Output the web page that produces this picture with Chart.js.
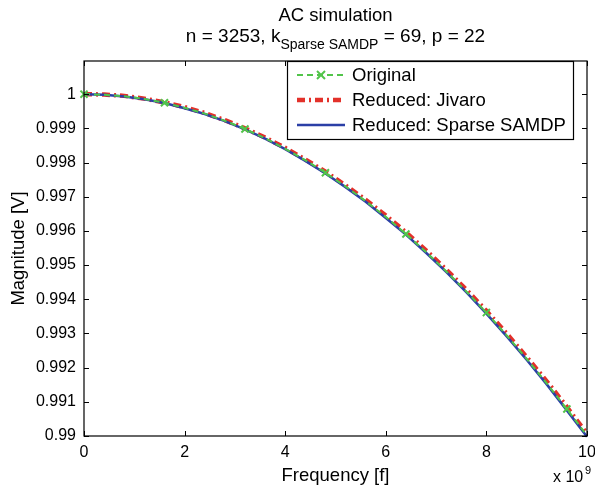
<!DOCTYPE html>
<html>
<head>
<meta charset="utf-8">
<script src="https://cdn.jsdelivr.net/npm/chart.js@4.4.1/dist/chart.umd.min.js"></script>
<style>
    html, body { margin: 0; padding: 0; background: #fff; }
</style>
</head>
<body>
<canvas id="acChart" width="595" height="490"></canvas>
<script>
// --- DATA ---
// frequency in units of 1e9 (axis shows "x 10^9")
const freq = [0, 0.4, 0.8, 1.2, 1.6, 2.0, 2.4, 2.8, 3.2, 3.6, 4.0, 4.4, 4.8,
              5.2, 5.6, 6.0, 6.4, 6.8, 7.2, 7.6, 8.0, 8.4, 8.8, 9.2, 9.6, 10.0];
const magOriginal = [1.0, 0.99998, 0.99994, 0.99986, 0.99975, 0.99960, 0.99943, 0.99922,
                     0.99898, 0.99871, 0.99840, 0.99807, 0.99770, 0.99730, 0.99687, 0.99641,
                     0.99591, 0.99538, 0.99482, 0.99423, 0.99361, 0.99295, 0.99226, 0.99154,
                     0.99079, 0.99001];
const magJivaro = [1.0, 0.99999, 0.99995, 0.99987, 0.99976, 0.99962, 0.99945, 0.99924,
                   0.99900, 0.99873, 0.99843, 0.99809, 0.99773, 0.99733, 0.99691, 0.99645,
                   0.99596, 0.99543, 0.99487, 0.99428, 0.99366, 0.99300, 0.99231, 0.99160,
                   0.99085, 0.99006];
const magSamdp = [1.0, 0.99998, 0.99993, 0.99985, 0.99974, 0.99959, 0.99942, 0.99921,
                  0.99897, 0.99870, 0.99839, 0.99805, 0.99768, 0.99728, 0.99685, 0.99638,
                  0.99589, 0.99536, 0.99480, 0.99421, 0.99358, 0.99292, 0.99223, 0.99151,
                  0.99075, 0.98998];
const xTicks = [0, 2, 4, 6, 8, 10];
const yTicks = [0.99, 0.991, 0.992, 0.993, 0.994, 0.995, 0.996, 0.997, 0.998, 0.999, 1];
const seriesNames = ['Original', 'Reduced: Jivaro', 'Reduced: Sparse SAMDP'];

const FONT = '"Liberation Sans", Arial, Helvetica, sans-serif';
const GREEN = '#52c44a';
const RED = '#e3312a';
const BLUE = '#2b3fa6';

function toPoints(ys) {
    return freq.map((f, i) => ({ x: f, y: ys[i] }));
}

// --- DECORATIONS: box, inward ticks, titles, legend ---
const matlabFrame = {
    id: 'matlabFrame',
    afterDraw(chart) {
        const ctx = chart.ctx;
        const a = chart.chartArea;
        const sx = chart.scales.x, sy = chart.scales.y;
        ctx.save();

        // axes box
        ctx.strokeStyle = '#000';
        ctx.lineWidth = 1.2;
        ctx.strokeRect(a.left, a.top, a.right - a.left, a.bottom - a.top);

        // inward ticks on all four sides
        ctx.lineWidth = 1;
        ctx.beginPath();
        xTicks.forEach(v => {
            const px = Math.round(sx.getPixelForValue(v)) + 0.5;
            ctx.moveTo(px, a.bottom); ctx.lineTo(px, a.bottom - 5);
            ctx.moveTo(px, a.top); ctx.lineTo(px, a.top + 5);
        });
        yTicks.forEach(v => {
            const py = Math.round(sy.getPixelForValue(v)) + 0.5;
            ctx.moveTo(a.left, py); ctx.lineTo(a.left + 5, py);
            ctx.moveTo(a.right, py); ctx.lineTo(a.right - 5, py);
        });
        ctx.stroke();

        const cx = (a.left + a.right) / 2;
        ctx.fillStyle = '#000';
        ctx.textBaseline = 'alphabetic';

        // title
        ctx.font = '18.5px ' + FONT;
        ctx.textAlign = 'center';
        ctx.fillText('AC simulation', cx, 21);

        // subtitle with subscript
        const p1 = 'n = 3253, k', sub = 'Sparse SAMDP', p2 = ' = 69, p = 22';
        ctx.font = '19px ' + FONT;
        const w1 = ctx.measureText(p1).width, w3 = ctx.measureText(p2).width;
        ctx.font = '14px ' + FONT;
        const w2 = ctx.measureText(sub).width;
        let x0 = cx - (w1 + w2 + w3) / 2;
        ctx.textAlign = 'left';
        ctx.font = '19px ' + FONT;
        ctx.fillText(p1, x0, 42);
        ctx.font = '14px ' + FONT;
        ctx.fillText(sub, x0 + w1, 49);
        ctx.font = '19px ' + FONT;
        ctx.fillText(p2, x0 + w1 + w2, 42);

        // axis labels
        ctx.font = '18.5px ' + FONT;
        ctx.textAlign = 'center';
        ctx.fillText('Frequency [f]', cx, 481);
        ctx.save();
        ctx.translate(24, (a.top + a.bottom) / 2);
        ctx.rotate(-Math.PI / 2);
        ctx.fillText('Magnitude [V]', 0, 0);
        ctx.restore();

        // exponent
        ctx.textAlign = 'left';
        ctx.font = '16px ' + FONT;
        ctx.fillText('x 10', 553, 482);
        ctx.font = '11px ' + FONT;
        ctx.fillText('9', 585, 474);

        // legend
        const lx = 287, ly = 61, lw = 286, lh = 78;
        ctx.fillStyle = '#fff';
        ctx.fillRect(lx, ly, lw, lh);
        ctx.strokeStyle = '#000';
        ctx.lineWidth = 1.2;
        ctx.strokeRect(lx + 0.5, ly + 0.5, lw, lh);

        const rows = [75, 100, 125];
        const styles = [
            { color: GREEN, width: 2, dash: [6, 4] },
            { color: RED, width: 4.5, dash: [8, 4, 2, 4] },
            { color: BLUE, width: 2.5, dash: [] }
        ];
        styles.forEach((s, i) => {
            ctx.strokeStyle = s.color;
            ctx.lineWidth = s.width;
            ctx.setLineDash(s.dash);
            ctx.beginPath();
            ctx.moveTo(297, rows[i]);
            ctx.lineTo(345, rows[i]);
            ctx.stroke();
        });
        ctx.setLineDash([]);
        // marker on the "Original" sample
        ctx.strokeStyle = GREEN;
        ctx.lineWidth = 2;
        ctx.beginPath();
        ctx.moveTo(317, rows[0] - 4); ctx.lineTo(325, rows[0] + 4);
        ctx.moveTo(317, rows[0] + 4); ctx.lineTo(325, rows[0] - 4);
        ctx.stroke();

        ctx.fillStyle = '#000';
        ctx.font = '18.5px ' + FONT;
        ctx.textBaseline = 'middle';
        seriesNames.forEach((n, i) => ctx.fillText(n, 352, rows[i] + 1));

        ctx.restore();
    }
};

const ctxAc = document.getElementById('acChart');
new Chart(ctxAc, {
    type: 'line',
    data: {
        datasets: [{
            label: seriesNames[2],
            data: toPoints(magSamdp),
            borderColor: BLUE,
            borderWidth: 2.5,
            pointRadius: 0,
            tension: 0,
            order: 0
        }, {
            label: seriesNames[1],
            data: toPoints(magJivaro),
            borderColor: RED,
            borderWidth: 4.5,
            borderDash: [8, 4, 2, 4],
            pointRadius: 0,
            tension: 0,
            order: 1
        }, {
            label: seriesNames[0],
            data: toPoints(magOriginal),
            borderColor: GREEN,
            borderWidth: 2,
            borderDash: [6, 4],
            pointStyle: 'crossRot',
            pointRadius: (c) => (c.dataIndex % 4 === 0 ? 5 : 0),
            pointBorderWidth: 2,
            pointBorderColor: GREEN,
            tension: 0,
            order: -1
        }]
    },
    options: {
        responsive: false,
        animation: false,
        clip: false,
        layout: { padding: { left: 0, right: 8, top: 61, bottom: 0 } },
        plugins: {
            legend: { display: false },
            tooltip: { enabled: false }
        },
        scales: {
            x: {
                type: 'linear',
                min: 0,
                max: 10,
                afterBuildTicks: (s) => { s.ticks = xTicks.map(v => ({ value: v })); },
                afterFit: (s) => { s.height = 54; s.paddingLeft = 0; s.paddingRight = 0; },
                grid: { display: false, drawTicks: false },
                border: { display: false },
                ticks: {
                    color: '#000',
                    padding: 7,
                    maxRotation: 0,
                    font: { family: FONT, size: 16 },
                    callback: (v) => String(v)
                }
            },
            y: {
                type: 'linear',
                min: 0.99,
                max: 1.00097,
                afterBuildTicks: (s) => { s.ticks = yTicks.map(v => ({ value: v })); },
                afterFit: (s) => { s.width = 84; s.paddingTop = 0; s.paddingBottom = 0; },
                grid: { display: false, drawTicks: false },
                border: { display: false },
                ticks: {
                    color: '#000',
                    padding: 8,
                    font: { family: FONT, size: 16 },
                    callback: (v) => String(parseFloat(v.toFixed(3)))
                }
            }
        }
    },
    plugins: [matlabFrame]
});
</script>
</body>
</html>
